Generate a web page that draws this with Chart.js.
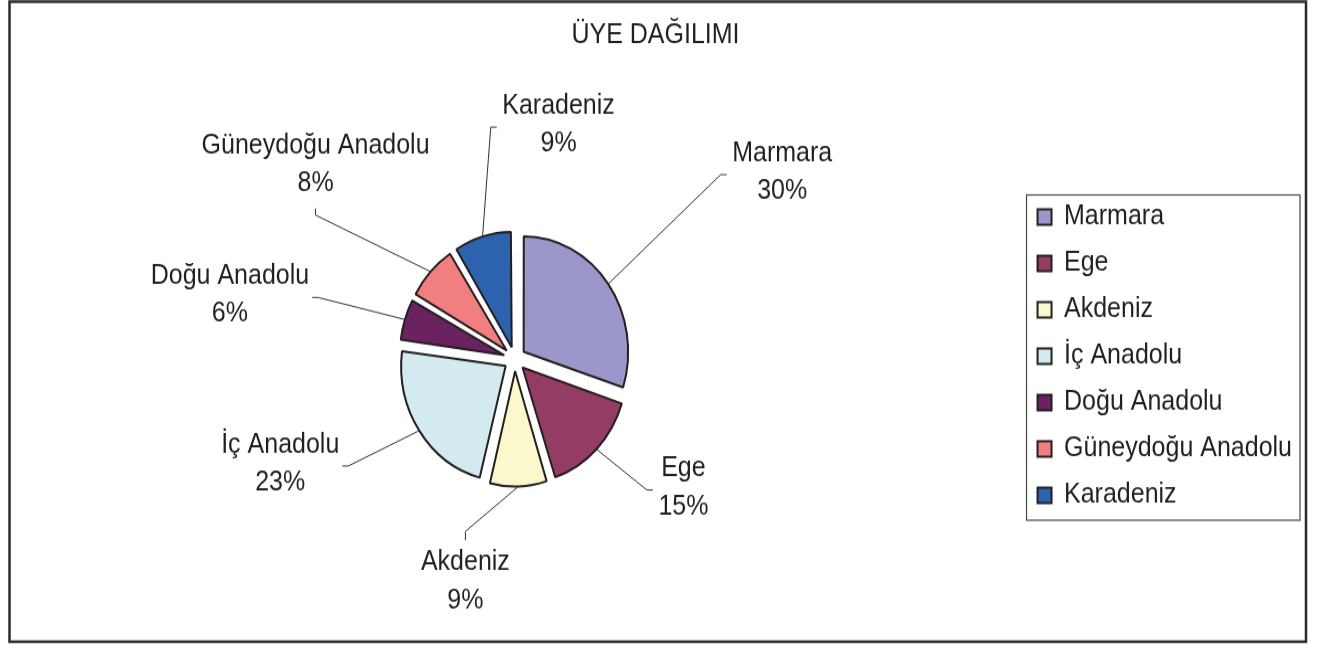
<!DOCTYPE html>
<html lang="tr">
<head>
  <meta charset="UTF-8">
  <title>ÜYE DAĞILIMI</title>
  <script src="https://cdn.jsdelivr.net/npm/chart.js"></script>
  <style>
    html, body { margin: 0; padding: 0; background: #fff; }
  </style>
</head>
<body>
  <!-- canvas is drawn 584 high and shown 645 high, the reference is stretched the same way -->
  <canvas id="uyeChart" width="1322" height="584" style="width:1322px;height:645px"></canvas>

  <script>
    // Veriler
    const bolgeler = ['Marmara', 'Ege', 'Akdeniz', 'İç Anadolu', 'Doğu Anadolu', 'Güneydoğu Anadolu', 'Karadeniz'];
    const uyeOranlari = [30, 15, 9, 23, 6, 8, 9];
    const renkler = ['#9b97cb', '#953c65', '#fbf8cd', '#d3ebf0', '#6a2360', '#f27f7f', '#2d63ae'];

    // etiket yerleşimi (dilim kenarına göre kaydırma) ve bağlantı çizgisinin geldiği yan
    const etiketKaydir = [[174, -101], [87, 35], [-53, 86], [-139, 30], [-175, -22], [-115, -97], [76, -101]];
    const etiketYonu = ['sol', 'sol', 'ust', 'sag', 'sag', 'alt', 'sol'];

    const YAZI = '"Liberation Sans", Arial, sans-serif';
    const KOYU = '#231f20';
    const YARICAP = 104.5;
    const KAYMA = 44;   // chart.js moves the arc by offset / 4
    const SATIR = 34.6;

    // small slices get a bigger radius from the offset fix in ArcElement, undo that
    const yaricapDuzelt = {
      id: 'yaricapDuzelt',
      beforeDatasetsDraw(chart) {
        chart.getDatasetMeta(0).data.forEach(arc => {
          const c = arc.endAngle - arc.startAngle;
          arc.outerRadius = YARICAP - (KAYMA / 4) * (1 - Math.sin(Math.min(Math.PI, c)));
        });
      }
    };

    const etiketler = {
      id: 'etiketler',
      afterDatasetsDraw(chart) {
        const ctx = chart.ctx;
        const toplam = uyeOranlari.reduce((a, b) => a + b, 0);
        ctx.save();
        ctx.font = '25px ' + YAZI;
        ctx.fillStyle = KOYU;
        ctx.strokeStyle = '#333';
        ctx.lineWidth = 1;
        ctx.textAlign = 'center';
        ctx.textBaseline = 'middle';
        chart.getDatasetMeta(0).data.forEach((arc, i) => {
          const {x, y, startAngle, endAngle} = arc.getProps(['x', 'y', 'startAngle', 'endAngle'], true);
          const aci = (startAngle + endAngle) / 2;
          const uzak = KAYMA / 4 + YARICAP;
          const ex = x + Math.cos(aci) * uzak;
          const ey = y + Math.sin(aci) * uzak;
          const cx = ex + etiketKaydir[i][0];
          const cy = ey + etiketKaydir[i][1];
          const ad = bolgeler[i];
          const yuzde = Math.round(uyeOranlari[i] / toplam * 100) + '%';
          const w = Math.max(ctx.measureText(ad).width, ctx.measureText(yuzde).width);
          let ax, ay, kx, ky;
          if (etiketYonu[i] === 'sol') {
            ax = cx - w / 2 - 5.5; ay = cy + 2; kx = ax - 6; ky = ay;
          } else if (etiketYonu[i] === 'sag') {
            ax = cx + w / 2 + 3; ay = cy + 2; kx = ax + 6; ky = ay;
          } else if (etiketYonu[i] === 'ust') {
            ax = cx; ay = cy - SATIR / 2 - 20; kx = ax; ky = ay - 8;
          } else {
            ax = cx; ay = cy + SATIR / 2 + 22.5; kx = ax; ky = ay + 6;
          }
          ctx.beginPath();
          ctx.moveTo(ex, ey);
          ctx.lineTo(kx, ky);
          ctx.lineTo(ax, ay);
          ctx.stroke();
          ctx.fillText(ad, cx, cy - SATIR / 2);
          ctx.fillText(yuzde, cx, cy + SATIR / 2);
        });
        ctx.restore();
      }
    };

    const cerceve = {
      id: 'cerceve',
      beforeDraw(chart) {
        const ctx = chart.ctx;
        ctx.save();
        ctx.fillStyle = '#fff';
        ctx.fillRect(0, 0, chart.width, chart.height);
        ctx.restore();
      },
      afterDraw(chart) {
        const ctx = chart.ctx;
        ctx.save();
        // dış çerçeve
        ctx.strokeStyle = '#2b2b2b';
        ctx.lineWidth = 2.5;
        ctx.strokeRect(9.5, 1.5, 1296.5, 579.5);
        // lejant kutusu
        const kutular = chart.legend.legendHitBoxes;
        if (kutular && kutular.length) {
          const ilk = kutular[0];
          const son = kutular[kutular.length - 1];
          const sag = Math.max(...kutular.map(k => k.left + k.width));
          const sol = ilk.left - 11;
          const ust = ilk.top - 7.5;
          ctx.strokeStyle = '#444';
          ctx.lineWidth = 1.2;
          ctx.strokeRect(sol, ust, sag + 8 - sol, son.top + son.height + 10 - ust);
        }
        ctx.restore();
      }
    };

    new Chart(document.getElementById('uyeChart'), {
      type: 'pie',
      data: {
        labels: bolgeler,
        datasets: [{
          data: uyeOranlari,
          backgroundColor: renkler,
          borderColor: KOYU,
          borderWidth: 2,
          offset: KAYMA
        }]
      },
      options: {
        responsive: false,
        devicePixelRatio: 1,
        animation: false,
        events: [],
        radius: YARICAP,
        layout: { padding: { left: 9, right: 20, top: 9, bottom: 101 } },
        plugins: {
          title: {
            display: true,
            text: 'ÜYE DAĞILIMI',
            color: KOYU,
            font: { family: YAZI, size: 25, weight: 'normal' },
            padding: { top: 8, bottom: 120 }
          },
          legend: {
            position: 'right',
            align: 'start',
            fullSize: false,
            labels: {
              color: KOYU,
              font: { family: YAZI, size: 25 },
              boxWidth: 14,
              boxHeight: 14,
              padding: 17
            }
          },
          tooltip: { enabled: false }
        }
      },
      plugins: [cerceve, yaricapDuzelt, etiketler]
    });
  </script>
</body>
</html>
